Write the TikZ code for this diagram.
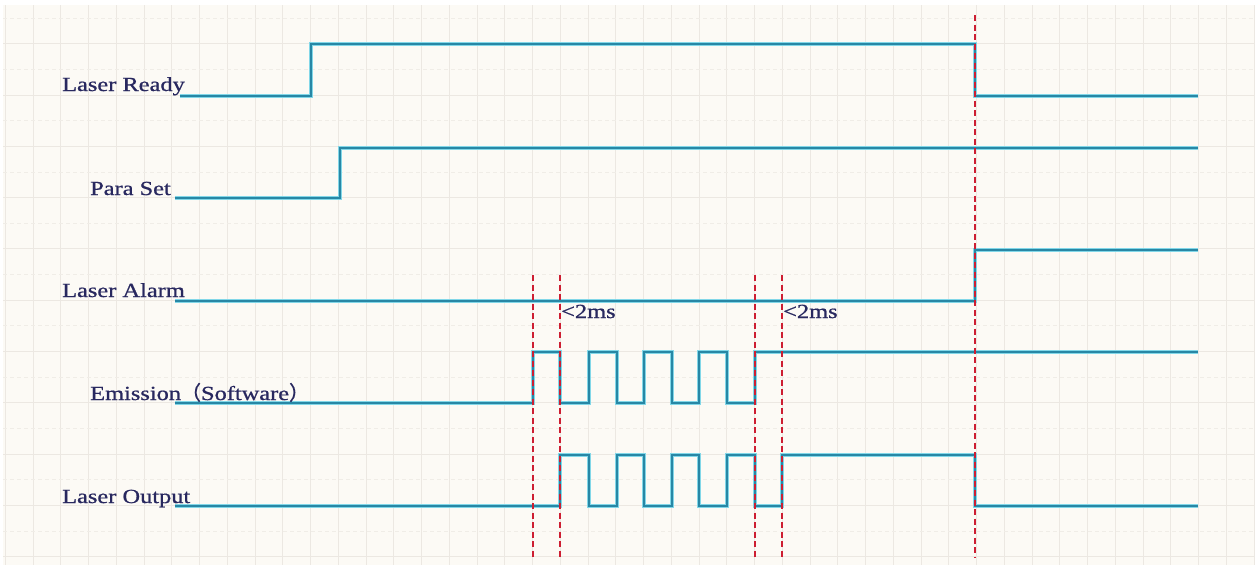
\documentclass[tikz,border=0pt]{standalone}
\usepackage{fontspec}
\setmainfont[FakeStretch=1.22,FakeBold=0.8]{Liberation Serif}
\newfontfamily\cjk[FakeBold=0.8]{Noto Sans CJK SC}
\definecolor{bgcream}{RGB}{252,250,245}
\definecolor{gridc}{RGB}{236,232,226}
\definecolor{gridm}{RGB}{240,237,231}
\definecolor{sigteal}{RGB}{40,135,165}
\definecolor{sigglow}{RGB}{130,215,232}
\definecolor{dashred}{RGB}{205,30,50}
\definecolor{navy}{RGB}{40,40,95}
\begin{document}
\begin{tikzpicture}[x=1pt,y=-1pt,
  sig/.style={draw=sigteal,line width=2.6pt,line join=miter,
    preaction={draw=sigglow,line width=4.2pt}},
  reddash/.style={draw=dashred,line width=2.6pt,dash pattern=on 6pt off 3.5pt},
  lbl/.style={anchor=base west,inner sep=0pt,text=navy,font=\fontsize{20}{24}\selectfont},
  gmaj/.style={draw=gridc,line width=0.8pt},
  gmin/.style={draw=gridm,line width=0.8pt,dash pattern=on 4pt off 3pt}]
\useasboundingbox (0,0) rectangle (1255,565);
\fill[white] (0,0) rectangle (1255,565);
\fill[bgcream] (3,5) rectangle (1255,565);
% grid
\foreach \k in {0,...,45} {
  \pgfmathsetmacro{\gx}{5.25+27.75*\k}
  \draw[gmaj] (\gx,5) -- (\gx,565);
}
\foreach \k in {0,...,21} {
  \pgfmathsetmacro{\gy}{18+25.65*\k}
  \ifodd\k
    \draw[gmaj] (3,\gy) -- (1255,\gy);
  \else
    \draw[gmin] (3,\gy) -- (1255,\gy);
  \fi
}
% signals
\draw[sig] (180,96) -| (311,44) -| (975,96) -- (1198,96);
\draw[sig] (175,198) -| (340,148) -- (1198,148);
\draw[sig] (175,301) -| (975,250) -- (1198,250);
\draw[sig] (175,403) -| (533,352) -| (560,403) -| (589,352) -| (617,403)
  -| (644,352) -| (672,403) -| (699,352) -| (727,403) -| (755,352) -- (1198,352);
\draw[sig] (175,506) -| (560,455) -| (589,506) -| (617,455) -| (644,506)
  -| (672,455) -| (699,506) -| (727,455) -| (755,506) -| (782,455)
  -| (975,506) -- (1198,506);
% red dashed markers
\draw[reddash] (533,275) -- (533,558);
\draw[reddash] (560,275) -- (560,558);
\draw[reddash] (755,275) -- (755,558);
\draw[reddash] (782,275) -- (782,558);
\draw[reddash] (975,15) -- (975,558);
% labels
\node[lbl] (lr) at (62,91) {Laser Ready};
\node[lbl] (ps) at (90,195) {Para Set};
\node[lbl] (la) at (62,297) {Laser Alarm};
\node[lbl] (em) at (90,400) {Emission{\cjk （}Software{\cjk ）}};
\node[lbl] (lo) at (62,503) {Laser Output};
\node[lbl] (t1) at (561,318) {<2ms};
\node[lbl] (t2) at (783,318) {<2ms};
\end{tikzpicture}
\end{document}
